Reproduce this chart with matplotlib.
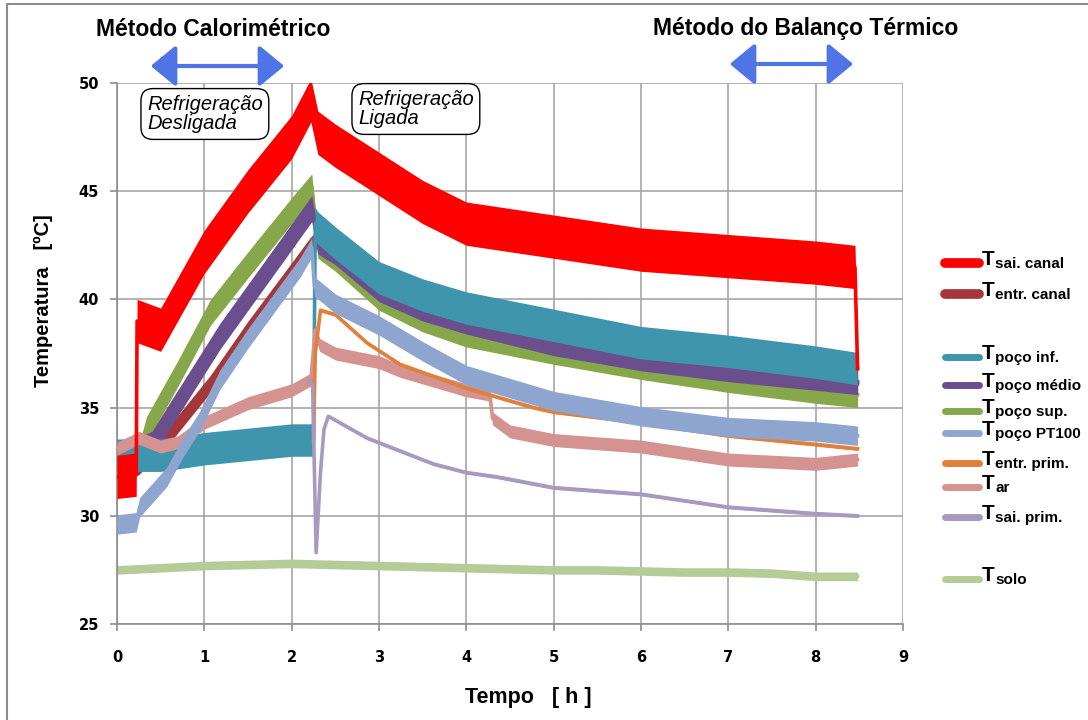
import matplotlib
matplotlib.use('Agg')
from matplotlib import pyplot as plt
from matplotlib.lines import Line2D
from matplotlib.patches import FancyArrowPatch
import numpy as np

# time [h] / temperature [oC] (centre of each noisy trace)
t_sai_canal = [0, 0.22, 0.23, 0.5, 1.0, 1.5, 2.0, 2.22, 2.3, 2.5, 3.0, 3.5, 4.0, 5.0, 6.0, 7.0, 8.0, 8.45, 8.48]
T_sai_canal = [31.8, 31.9, 39.0, 38.6, 42.2, 45.0, 47.5, 49.2, 47.7, 47.1, 45.8, 44.5, 43.5, 42.9, 42.3, 42.0, 41.7, 41.5, 36.8]

t_entr_canal = [0, 0.25, 0.57, 1.07, 1.5, 2.0, 2.22, 2.3, 2.5, 3.0, 4.0, 5.0, 6.0, 7.0, 8.0, 8.48]
T_entr_canal = [31.9, 32.3, 33.6, 36.1, 38.6, 41.3, 42.5, 42.8, 42.3, 40.4, 38.8, 37.9, 37.2, 36.7, 36.3, 36.1]

t_poco_inf = [0, 0.5, 1.0, 1.5, 2.0, 2.25, 2.27, 2.3, 2.5, 3.0, 3.5, 4.0, 5.0, 6.0, 7.0, 8.0, 8.48]
T_poco_inf = [32.8, 32.8, 33.1, 33.3, 33.5, 33.5, 43.5, 43.3, 42.6, 41.0, 40.2, 39.6, 38.8, 38.0, 37.6, 37.1, 36.8]

t_poco_medio = [0, 0.4, 0.6, 1.18, 1.5, 2.0, 2.23, 2.3, 2.5, 3.0, 3.5, 4.0, 5.0, 6.0, 7.0, 8.0, 8.48]
T_poco_medio = [32.6, 33.3, 34.6, 38.3, 40.1, 42.9, 44.2, 42.7, 42.2, 40.5, 39.6, 39.0, 38.0, 37.3, 36.8, 36.4, 36.2]

t_poco_sup = [0, 0.25, 0.34, 0.7, 1.07, 1.5, 2.0, 2.23, 2.3, 2.5, 3.0, 3.5, 4.0, 5.0, 6.0, 7.0, 8.0, 8.48]
T_poco_sup = [32.3, 32.7, 34.0, 36.6, 39.4, 41.6, 44.1, 45.2, 42.5, 41.9, 40.1, 39.1, 38.4, 37.6, 36.9, 36.3, 35.8, 35.6]

t_pt100 = [0, 0.22, 0.26, 0.57, 0.76, 0.95, 1.18, 1.5, 2.1, 2.23, 2.26, 2.5, 3.0, 3.5, 4.0, 5.0, 6.0, 7.0, 8.0, 8.48]
T_pt100 = [29.6, 29.7, 30.4, 31.8, 33.2, 34.4, 36.3, 38.2, 41.5, 42.4, 40.6, 39.8, 38.8, 37.6, 36.5, 35.3, 34.6, 34.1, 33.9, 33.7]

t_entr_prim = [2.25, 2.27, 2.33, 2.5, 2.86, 3.24, 4.0, 4.77, 5.0, 6.0, 7.0, 8.0, 8.48]
T_entr_prim = [33.4, 37.5, 39.5, 39.3, 38.0, 37.0, 35.9, 35.0, 34.8, 34.3, 33.7, 33.3, 33.1]

t_ar = [0, 0.25, 0.5, 0.7, 1.0, 1.5, 2.0, 2.22, 2.27, 2.32, 2.5, 3.0, 3.24, 4.0, 4.27, 4.3, 4.5, 5.0, 6.0, 7.0, 8.0, 8.48]
T_ar = [33.1, 33.6, 33.2, 33.4, 34.3, 35.2, 35.8, 36.3, 38.6, 37.9, 37.5, 37.1, 36.7, 35.8, 35.6, 34.5, 33.9, 33.5, 33.2, 32.6, 32.4, 32.6]

t_sai_prim = [2.2, 2.24, 2.28, 2.33, 2.37, 2.42, 2.86, 3.24, 3.62, 4.0, 4.35, 5.0, 6.0, 7.0, 8.0, 8.48]
T_sai_prim = [36.3, 36.0, 28.3, 32.0, 34.0, 34.6, 33.6, 33.0, 32.4, 32.0, 31.8, 31.3, 31.0, 30.4, 30.1, 30.0]

t_solo = [0, 0.5, 1, 1.5, 2, 2.5, 3, 3.5, 4, 4.5, 5, 5.5, 6, 6.5, 7, 7.5, 8, 8.48]
T_solo = [27.5, 27.6, 27.7, 27.75, 27.8, 27.75, 27.7, 27.65, 27.6, 27.55, 27.5, 27.5, 27.45, 27.4, 27.4, 27.35, 27.2, 27.2]

# half spread of the measurement noise per series [oC]
noise = {'sai_canal': 1.0, 'entr_canal': 0.4, 'poco_inf': 0.75, 'poco_medio': 0.6,
         'poco_sup': 0.6, 'pt100': 0.45, 'entr_prim': 0.08, 'ar': 0.3, 'sai_prim': 0.08, 'solo': 0.2}

W, H = 1088, 720
fx = lambda x: x / W
fy = lambda y: 1 - y / H

fig = plt.figure(figsize=(W / 100, H / 100), dpi=100)
fig.set_facecolor('white')
ax = fig.add_axes([fx(117), fy(624), fx(903) - fx(117), fy(83) - fy(624)])

series = [
    ('solo', t_solo, T_solo, '#B6CC96', 1),
    ('entr_canal', t_entr_canal, T_entr_canal, '#A5373A', 2),
    ('poco_sup', t_poco_sup, T_poco_sup, '#86A84A', 3),
    ('poco_medio', t_poco_medio, T_poco_medio, '#6B4E8E', 4),
    ('poco_inf', t_poco_inf, T_poco_inf, '#3E95AD', 5),
    ('ar', t_ar, T_ar, '#D49390', 6),
    ('entr_prim', t_entr_prim, T_entr_prim, '#E0803A', 7),
    ('pt100', t_pt100, T_pt100, '#8EA6CF', 8),
    ('sai_prim', t_sai_prim, T_sai_prim, '#A899C0', 9),
    ('sai_canal', t_sai_canal, T_sai_canal, '#FF0000', 10),
]
for key, t, T, c, z in series:
    t = np.array(t)
    T = np.array(T)
    a = noise[key]
    ax.fill_between(t, T - a, T + a, color=c, lw=0, zorder=z)
    ax.plot(t, T, color=c, lw=2.6, solid_joinstyle='round', zorder=z)

ax.set_xlim(0, 9)
ax.set_ylim(25, 50)
ax.set_xticks(range(0, 10))
ax.set_yticks(range(25, 51, 5))
ax.grid(True, color='#A6A6A6', lw=1.2, zorder=0)
ax.set_axisbelow(True)
for side in ['top', 'right']:
    ax.spines[side].set_visible(False)
for side in ['left', 'bottom']:
    ax.spines[side].set_color('#8C8C8C')
    ax.spines[side].set_linewidth(1.2)
ax.tick_params(axis='both', colors='#8C8C8C', length=5, width=1.2)
ax.tick_params(axis='x', pad=14, labelcolor='black')
ax.tick_params(axis='y', pad=8, labelcolor='black')
for lab in ax.get_xticklabels() + ax.get_yticklabels():
    lab.set_fontweight('bold')
    lab.set_fontsize(10.5)
    lab.set_fontfamily('DejaVu Sans')

# axis titles
fig.text(fx(43), fy(301), 'Temperatura   [ºC]', rotation=90, ha='center', va='center',
         fontsize=14.5, fontweight='bold', family='Liberation Sans')
fig.text(fx(528), fy(698), 'Tempo   [ h ]', ha='center', va='center',
         fontsize=15.5, fontweight='bold', family='Liberation Sans')

# method headers with arrows
fig.text(fx(213), fy(29), 'Método Calorimétrico', ha='center', va='center',
         fontsize=16.5, fontweight='bold', family='Liberation Sans')
fig.text(fx(806), fy(28), 'Método do Balanço Térmico', ha='center', va='center',
         fontsize=16.5, fontweight='bold', family='Liberation Sans')
for x0, x1, y in [(148, 287, 66), (727, 856, 64)]:
    arr = FancyArrowPatch((fx(x0), fy(y)), (fx(x1), fy(y)), transform=fig.transFigure,
                          arrowstyle='<|-|>,head_length=0.85,head_width=0.7',
                          mutation_scale=18, color='#4F74E6', lw=3.0)
    fig.add_artist(arr)

# state boxes
box = dict(boxstyle='round,pad=0.3,rounding_size=0.6', fc='white', ec='black', lw=1.0)
fig.text(fx(147), fy(114), 'Refrigeração\nDesligada', ha='left', va='center', fontsize=14.5,
         style='italic', family='Liberation Sans', linespacing=1.05, bbox=box)
fig.text(fx(358), fy(109), 'Refrigeração\nLigada', ha='left', va='center', fontsize=14.5,
         style='italic', family='Liberation Sans', linespacing=1.05, bbox=box)

# legend drawn by hand (uneven spacing as in the original)
legend = [
    ('sai. canal', '#FF0000', 263, 7),
    ('entr. canal', '#A5373A', 294, 7),
    ('poço inf.', '#3E95AD', 357, 5),
    ('poço médio', '#6B4E8E', 385, 5),
    ('poço sup.', '#86A84A', 411, 5),
    ('poço PT100', '#8EA6CF', 433, 5),
    ('entr. prim.', '#E0803A', 463, 5),
    ('ar', '#D49390', 487, 5),
    ('sai. prim.', '#A899C0', 517, 5),
    ('solo', '#B6CC96', 579, 5),
]
for sub, c, y, lw in legend:
    fig.add_artist(Line2D([fx(945), fx(979)], [fy(y), fy(y)], color=c, lw=lw,
                          solid_capstyle='round', transform=fig.transFigure))
    fig.text(fx(982), fy(y + 2), 'T', ha='left', va='baseline', fontsize=15,
             fontweight='bold', family='Liberation Sans')
    fig.text(fx(995), fy(y + 5), sub, ha='left', va='baseline', fontsize=11,
             fontweight='bold', family='Liberation Sans')

# chart area frame
fig.add_artist(Line2D([fx(7), fx(7), fx(1088)], [fy(720), fy(4), fy(4)], color='#8C8C8C',
                      lw=1.5, transform=fig.transFigure))

plt.savefig('out.png', dpi=100)
plt.close('all')
